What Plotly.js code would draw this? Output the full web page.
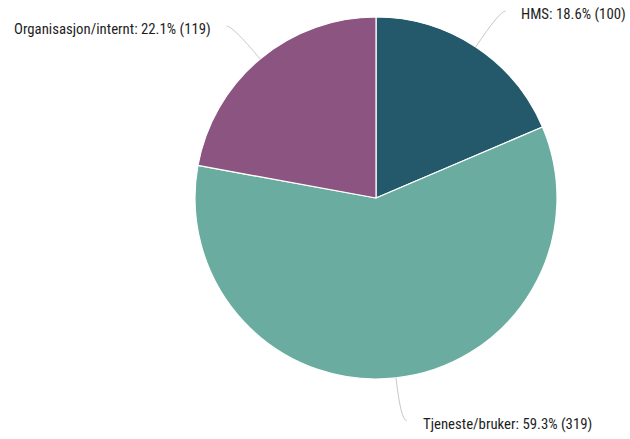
<!DOCTYPE html>
<html>
<head>
<meta charset="utf-8">
<script src="https://cdn.plot.ly/plotly-3.0.1.min.js"></script>
<style>html,body{margin:0;padding:0;background:#fff;}#chart{width:630px;height:439px;}</style>
</head>
<body>
<div id="chart"></div>
<script>
const categories = ["HMS", "Tjeneste/bruker", "Organisasjon/internt"];
const values = [100, 319, 119];
const percents = ["18.6%", "59.3%", "22.1%"];
const colors = ["#24596c", "#6aada0", "#8c5581"];

const W = 630, H = 439;
const cx = 376, cy = 198, R = 181;

const trace = {
  type: "pie",
  labels: categories,
  values: values,
  sort: false,
  direction: "clockwise",
  rotation: 0,
  textinfo: "none",
  hoverinfo: "label+value+percent",
  marker: { colors: colors, line: { color: "#ffffff", width: 1.2 } },
  domain: { x: [(cx - R) / W, (cx + R) / W], y: [1 - (cy + R) / H, 1 - (cy - R) / H] },
  showlegend: false
};

const total = values.reduce((a, b) => a + b, 0);
const shapes = [], annotations = [];
let cum = 0;
const px = x => x / W, py = y => 1 - y / H;
values.forEach((v, i) => {
  const mid = (cum + v / 2) / total * 2 * Math.PI;
  cum += v;
  const dx = Math.sin(mid), dy = -Math.cos(mid);
  const side = dx >= 0 ? 1 : -1;
  const ex = cx + R * dx, ey = cy + R * dy;
  const tx = cx + (R + 43) * dx + side * 6, ty = cy + (R + 43) * dy;
  const t = (ty - ey) / dy;
  const ctlx = ex + t * dx, ctly = ty;
  shapes.push({
    type: "path", xref: "paper", yref: "paper",
    path: `M ${px(ex)} ${py(ey)} Q ${px(ctlx)} ${py(ctly)} ${px(tx)} ${py(ty)}`,
    line: { color: "#c8c8c8", width: 1 }
  });
  annotations.push({
    xref: "paper", yref: "paper", x: px(tx + side * 14), y: py(ty + 3),
    xanchor: side > 0 ? "left" : "right", yanchor: "middle",
    text: `${categories[i]}: ${percents[i]} (${values[i]})`,
    showarrow: false,
    font: { family: "'Liberation Sans Narrow', 'Roboto Condensed', Roboto, sans-serif", size: 14.8, color: "#1e1e1e" }
  });
});

const layout = {
  width: W, height: H,
  margin: { l: 0, r: 0, t: 0, b: 0 },
  paper_bgcolor: "#ffffff",
  shapes: shapes,
  annotations: annotations
};
Plotly.newPlot("chart", [trace], layout, { displayModeBar: false, staticPlot: true });
</script>
</body>
</html>
